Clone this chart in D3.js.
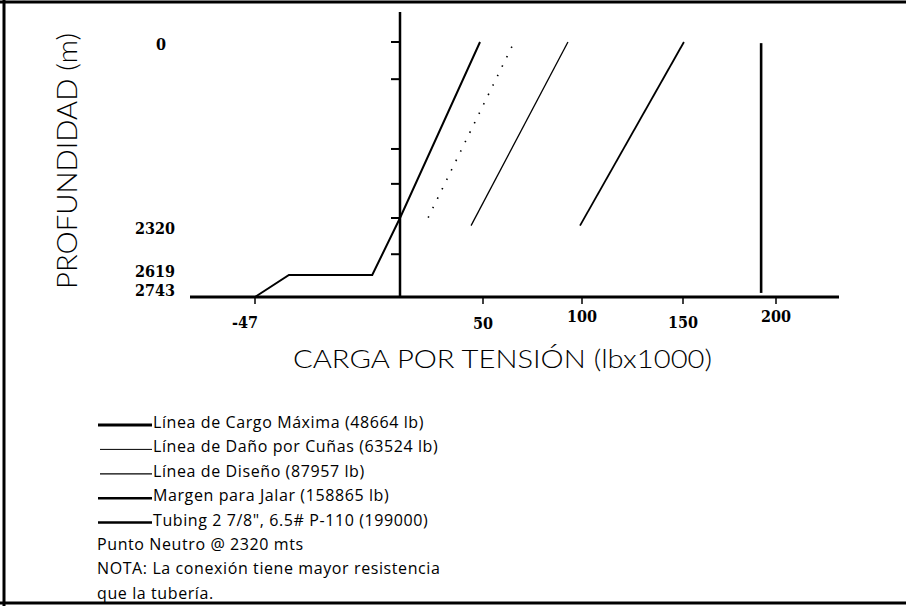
<!DOCTYPE html>
<html>
<head>
<meta charset="utf-8">
<script src="https://cdn.jsdelivr.net/npm/d3@7"></script>
<style>
  body { margin: 0; background: #fff; }
  svg { display: block; }
</style>
</head>
<body>
<svg id="chart" width="906" height="606"></svg>
<script>
// axis ticks (depth in m, load in lb x 1000)
const depthLabels = [0, 2320, 2619, 2743];
const depthTicks = [0, 490, 1410, 1870, 2320, 2510];
const loadLabels = [-47, 50, 100, 150, 200];

// each series: [load, depth] pairs
const cargaMaxima = [[48.2, 0], [0, 2320], [-9, 2619], [-36, 2619], [-47, 2743]];
const danoCunas   = [[64.6, 60], [16.3, 2330]];
const diseno      = [[92.9, 0], [42.8, 2360]];
const margenJalar = [[150.5, 0], [99, 2360]];
const tubing      = [[192, 15], [192, 2720]];

const legendLabels = [
  'Línea de Cargo Máxima (48664 lb)',
  'Línea de Daño por Cuñas (63524 lb)',
  'Línea de Diseño (87957 lb)',
  'Margen para Jalar (158865 lb)',
  'Tubing 2 7/8", 6.5# P-110 (199000)'
];
const notes = ['Punto Neutro @ 2320 mts', 'NOTA: La conexión tiene mayor resistencia', 'que la tubería.'];

const svg = d3.select('#chart');

// the original drawing is not to scale, so both scales are piecewise
const x = d3.scaleLinear().domain([-47, 0, 50, 100, 150, 200]).range([255, 400, 483, 582, 683, 776]);
const y = d3.scaleLinear().domain([0, 2320, 2619, 2743]).range([42, 218, 275, 297]);

// frame
svg.append('line').attr('x1', 0).attr('x2', 906).attr('y1', 2).attr('y2', 2).attr('stroke', '#000').attr('stroke-width', 3);
svg.append('line').attr('x1', 4).attr('x2', 4).attr('y1', 0).attr('y2', 606).attr('stroke', '#000').attr('stroke-width', 3);
svg.append('line').attr('x1', 0).attr('x2', 906).attr('y1', 603).attr('y2', 603).attr('stroke', '#000').attr('stroke-width', 3);

// axes lines
svg.append('line').attr('x1', 190).attr('x2', 839).attr('y1', y(2743)).attr('y2', y(2743))
  .attr('stroke', '#000').attr('stroke-width', 3);
svg.append('line').attr('x1', x(0)).attr('x2', x(0)).attr('y1', 12).attr('y2', y(2743))
  .attr('stroke', '#000').attr('stroke-width', 2.5);

// y ticks (left of axis)
svg.selectAll('.ytick').data(depthTicks).enter().append('line')
  .attr('x1', x(0) - 9).attr('x2', x(0)).attr('y1', d => y(d)).attr('y2', d => y(d))
  .attr('stroke', '#000').attr('stroke-width', 2);
// x ticks (below axis)
svg.selectAll('.xtick').data(loadLabels).enter().append('line')
  .attr('x1', d => x(d)).attr('x2', d => x(d)).attr('y1', y(2743)).attr('y2', y(2743) + 7)
  .attr('stroke', '#000').attr('stroke-width', 1.5);

// tick labels
const yNudge = {0: 8, 2320: 16, 2619: 2, 2743: -1};
svg.selectAll('.ylab').data(depthLabels).enter().append('text')
  .attr('x', d => d === 0 ? 161 : 155).attr('y', d => y(d) + yNudge[d])
  .attr('text-anchor', 'middle')
  .style('font-family', '"DejaVu Serif Condensed", "DejaVu Serif", serif')
  .style('font-stretch', 'condensed').style('font-weight', 'bold').style('font-size', '16px')
  .text(d => d);
const xNudge = {'-47': [-10, 328], 50: [0, 329], 100: [0, 322], 150: [0, 328], 200: [0, 322]};
svg.selectAll('.xlab').data(loadLabels).enter().append('text')
  .attr('x', d => x(d) + xNudge[d][0]).attr('y', d => xNudge[d][1])
  .attr('text-anchor', 'middle')
  .style('font-family', '"DejaVu Serif Condensed", "DejaVu Serif", serif')
  .style('font-stretch', 'condensed').style('font-weight', 'bold').style('font-size', '16px')
  .text(d => d);

// axis titles
svg.append('text').attr('x', 293).attr('y', 368).attr('textLength', 419).attr('lengthAdjust', 'spacingAndGlyphs')
  .style('font-family', 'Lato, "DejaVu Sans", sans-serif').style('font-weight', 300).style('font-size', '25px')
  .text('CARGA POR TENSIÓN (lbx1000)');
svg.append('text').attr('transform', 'translate(77,289) rotate(-90)').attr('textLength', 256).attr('lengthAdjust', 'spacingAndGlyphs')
  .style('font-family', 'Lato, "DejaVu Sans", sans-serif').style('font-weight', 300).style('font-size', '27px')
  .text('PROFUNDIDAD (m)');

// series
const line = d3.line().x(d => x(d[0])).y(d => y(d[1]));
const series = [
  {data: cargaMaxima, w: 2, dash: null},
  {data: danoCunas, w: 1.6, dash: '1.5,9'},
  {data: diseno, w: 1.3, dash: null},
  {data: margenJalar, w: 1.8, dash: null},
  {data: tubing, w: 2.6, dash: null}
];
svg.selectAll('.series').data(series).enter().append('path')
  .attr('d', d => line(d.data)).attr('fill', 'none').attr('stroke', '#000')
  .attr('stroke-width', d => d.w).attr('stroke-dasharray', d => d.dash);

// legend
const legendW = [3, 1, 1.3, 2.5, 2.5];
const legendX = [98, 100, 100, 98, 98];
const lg = svg.append('g').style('font-family', '"Open Sans", "DejaVu Sans", sans-serif')
  .style('font-size', '16px').style('letter-spacing', '0.6px');
legendLabels.forEach((t, i) => {
  const yy = 422 + i * 24.4;
  lg.append('line').attr('x1', legendX[i]).attr('x2', 152).attr('y1', yy + 3).attr('y2', yy + 3)
    .attr('stroke', '#000').attr('stroke-width', legendW[i]);
  lg.append('text').attr('x', 153).attr('y', yy + 6).text(t);
});
notes.forEach((t, i) => {
  lg.append('text').attr('x', 97).attr('y', 422 + (i + 5) * 24.4 + 6).text(t);
});
</script>
</body>
</html>
